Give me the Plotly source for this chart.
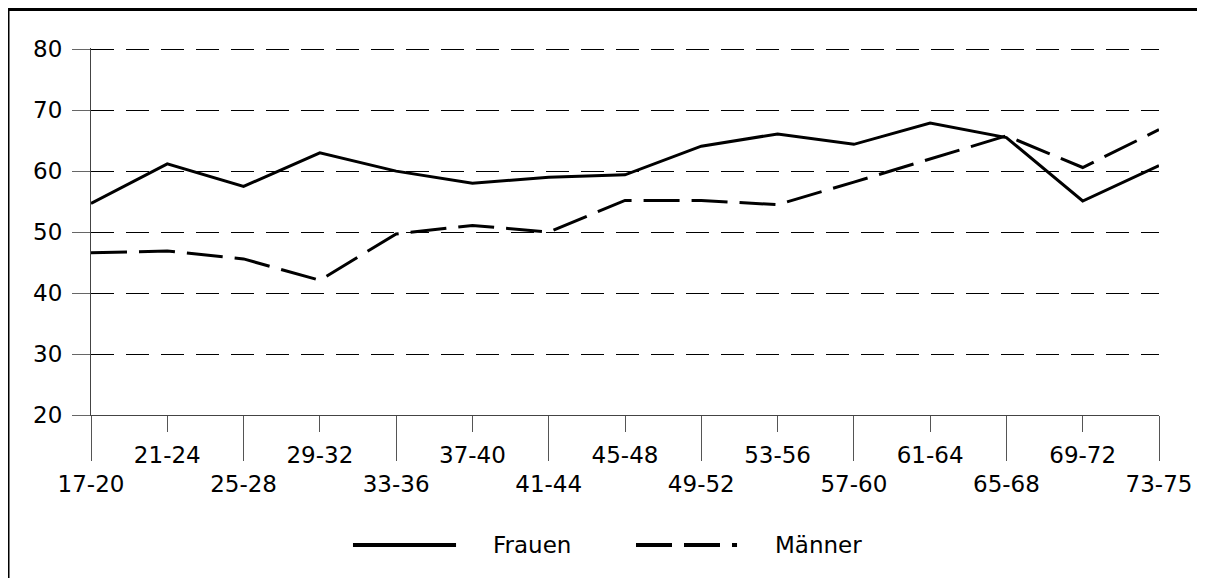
import plotly.graph_objects as go

# Age groups along the x axis
age_groups = ["17-20", "21-24", "25-28", "29-32", "33-36", "37-40", "41-44", "45-48",
              "49-52", "53-56", "57-60", "61-64", "65-68", "69-72", "73-75"]

# Values
frauen = [54.7, 61.2, 57.5, 63.0, 60.0, 58.0, 59.0, 59.4,
          64.1, 66.1, 64.4, 67.9, 65.5, 55.1, 60.9]
maenner = [46.6, 46.9, 45.6, 42.1, 49.7, 51.1, 50.0, 55.2,
           55.2, 54.5, 58.2, 62.0, 65.8, 60.6, 66.8]

y_ticks = [20, 30, 40, 50, 60, 70, 80]

FONT = "DejaVu Sans"
SIZE = 23
LINE_DASH = "36px,12px"

xpos = list(range(len(age_groups)))

fig = go.Figure()

fig.add_trace(go.Scatter(
    x=xpos, y=frauen, name="Frauen", mode="lines",
    line=dict(color="black", width=3),
    showlegend=False
))
# Männer sits on the overlay axis so that axis (upper label row) gets drawn
fig.add_trace(go.Scatter(
    x=xpos, y=maenner, name="Männer", mode="lines",
    line=dict(color="black", width=3, dash=LINE_DASH),
    xaxis="x2",
    showlegend=False
))

# lower row of labels + long ticks on the main axis, upper row + short ticks on the overlay
lower_idx = xpos[0::2]
upper_idx = xpos[1::2]

# page body adds 8px on every side, keep the figure inside the window
fig.update_layout(
    width=1189,
    height=570,
    margin=dict(l=83, r=38, t=40, b=163),
    paper_bgcolor="white",
    plot_bgcolor="white",
    font=dict(family=FONT, size=SIZE, color="black"),
    showlegend=False,
    xaxis=dict(
        range=[0, 14],
        tickmode="array",
        tickvals=lower_idx,
        ticktext=[age_groups[i] for i in lower_idx],
        ticks="outside",
        ticklen=45,
        tickwidth=1,
        tickcolor="#555",
        ticklabelstandoff=3,
        showline=True,
        linecolor="#444",
        linewidth=1,
        showgrid=False,
        zeroline=False,
        automargin=False,
    ),
    xaxis2=dict(
        overlaying="x",
        anchor="y",
        side="bottom",
        range=[0, 14],
        tickmode="array",
        tickvals=upper_idx,
        ticktext=[age_groups[i] for i in upper_idx],
        ticks="outside",
        ticklen=16,
        tickwidth=1,
        tickcolor="#555",
        ticklabelstandoff=3,
        showline=False,
        showgrid=False,
        zeroline=False,
        automargin=False,
    ),
    yaxis=dict(
        range=[20, 80.2],
        tickmode="array",
        tickvals=y_ticks,
        ticks="outside",
        ticklen=18,
        tickwidth=1,
        tickcolor="#666",
        ticklabelstandoff=5,
        showline=True,
        linecolor="#444",
        linewidth=1,
        showgrid=True,
        gridcolor="black",
        gridwidth=1,
        griddash="23px,12px",
        zeroline=False,
        automargin=False,
    ),
)

# outer frame: only the top and left edges are inside the picture
frame = dict(color="black", width=3)
fig.add_shape(type="line", xref="paper", yref="paper",
              x0=-0.0777, x1=1.2, y0=1.105, y1=1.105, line=frame)
fig.add_shape(type="line", xref="paper", yref="paper",
              x0=-0.0777, x1=-0.0777, y0=1.105, y1=-0.6, line=frame)

# hand-drawn legend, the built-in one has too short line samples
leg_y = -0.354
fig.add_shape(type="line", xref="paper", yref="paper",
              x0=0.2453, x1=0.3418, y0=leg_y, y1=leg_y,
              line=dict(color="black", width=4))
fig.add_shape(type="line", xref="paper", yref="paper",
              x0=0.5103, x1=0.6049, y0=leg_y, y1=leg_y,
              line=dict(color="black", width=4, dash=LINE_DASH))
fig.add_annotation(text="Frauen", xref="paper", yref="paper",
                   x=0.3745, y=leg_y, xanchor="left", yanchor="middle",
                   showarrow=False, font=dict(family=FONT, size=SIZE))
fig.add_annotation(text="Männer", xref="paper", yref="paper",
                   x=0.6386, y=leg_y, xanchor="left", yanchor="middle",
                   showarrow=False, font=dict(family=FONT, size=SIZE))

fig.write_html("out.html")
